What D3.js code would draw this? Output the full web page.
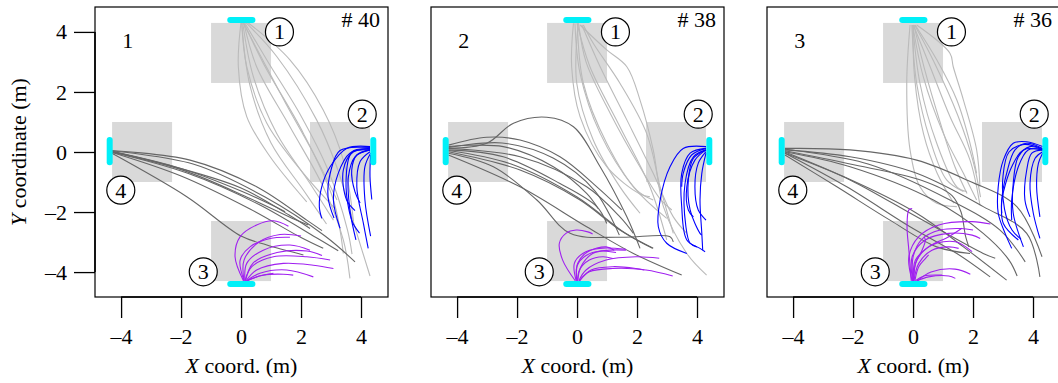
<!DOCTYPE html>
<html>
<head>
<meta charset="utf-8">
<script src="https://cdn.jsdelivr.net/npm/d3@7"></script>
<style>
  body { margin: 0; background: #fff; }
</style>
</head>
<body>
<svg id="chart" width="1058" height="383"></svg>
<script>
// ---- data (metres) ----
const panelNames = ["1", "2", "3"];
const panelCounts = ["# 40", "# 38", "# 36"];
const xTicks = [-4, -2, 0, 2, 4];
const yTicks = [-4, -2, 0, 2, 4];

// waiting zones in front of each door [x0, x1, y0, y1]
const zones = [[-1, 1, 2.3, 4.3], [2.3, 4.3, -1, 1], [-1, 1, -4.3, -2.3], [-4.3, -2.3, -1, 1]];
// door segments [[x, y], [x, y]]
const doors = [
  [[-0.36, 4.4], [0.38, 4.4]],
  [[4.41, -0.34], [4.41, 0.4]],
  [[-0.36, -4.4], [0.38, -4.4]],
  [[-4.38, -0.34], [-4.38, 0.4]]
];
const doorNames = ["1", "2", "3", "4"];
const doorNameSpots = [[1.28, 4.0], [4.04, 1.26], [-1.26, -3.99], [-4.01, -1.27]];

// panel 1 trajectories
const p1Door1 = [
  [[0, 4.34], [-0.09, 2.84], [0.19, 1.18], [0.97, -0.16], [2.19, -1.66]],
  [[0.02, 4.34], [0.19, 2.84], [0.86, 0.96], [2.08, -0.71], [3.13, -1.88]],
  [[0.08, 4.34], [0.52, 2.84], [1.63, 0.84], [2.74, -1.16], [3.41, -2.93], [3.63, -4.21]],
  [[0.08, 4.34], [0.74, 2.96], [2.08, 0.62], [3.08, -1.6], [3.41, -3.38]],
  [[0.13, 4.34], [1.19, 3.18], [2.52, 1.07], [3.19, -0.49], [3.86, -2.71], [4.3, -4.13]],
  [[0.19, 4.34], [1.63, 3.07], [2.74, 1.4], [3.41, -0.27], [3.75, -2.3]],
  [[0.05, 4.34], [0.41, 2.51], [1.19, 0.62], [2.3, -1.05], [3.08, -2.27]],
  [[0.02, 4.34], [0.3, 2.2], [1.0, 0.3], [2.1, -1.3], [2.85, -2.4]],
  [[0.1, 4.34], [0.9, 3.0], [2.0, 1.2], [2.9, -0.6], [3.55, -2.6], [3.7, -3.4]],
  [[0.05, 4.34], [0.6, 3.3], [1.5, 1.6], [2.5, -0.2], [3.2, -1.6]]
];
const p1Door4 = [
  [[-4.35, 0.05], [-1.7, -0.27], [0.52, -1.16], [2.19, -2.27], [2.7, -2.62]],
  [[-4.35, 0.03], [-2.0, -0.55], [0.0, -1.3], [1.2, -1.85], [1.47, -1.99]],
  [[-4.35, 0.02], [-1.9, -0.62], [0.3, -1.55], [1.8, -2.25], [2.24, -2.43]],
  [[-4.35, 0.0], [-2.0, -0.8], [0.3, -1.9], [2.0, -2.85], [2.74, -3.21]],
  [[-4.35, 0.01], [-1.8, -0.7], [0.6, -1.75], [2.5, -2.85], [3.24, -3.29]],
  [[-4.35, 0.04], [-1.6, -0.4], [0.8, -1.5], [2.8, -2.8], [3.8, -3.66]],
  [[-4.35, -0.02], [-1.81, -1.49], [0.0, -2.8], [0.86, -3.1], [2.08, -3.43]],
  [[-4.35, 0.02], [-2.2, -0.5], [0.0, -1.2], [1.6, -2.1], [2.3, -2.55]]
];
const p1Door2 = [
  [[4.3, 0.18], [3.52, 0.12], [2.97, -0.49], [2.69, -1.16], [2.61, -1.82], [2.69, -2.21]],
  [[4.3, 0.12], [3.63, -0.04], [3.24, -0.71], [3.08, -1.6], [3.3, -2.54]],
  [[4.3, 0.07], [3.8, -0.16], [3.58, -0.82], [3.63, -1.93], [3.83, -2.93]],
  [[4.3, 0.01], [3.97, -0.32], [3.86, -1.16], [4.08, -2.38], [4.24, -3.21]],
  [[4.32, -0.04], [4.13, -0.49], [4.13, -1.6], [4.32, -2.8]],
  [[4.32, -0.1], [4.3, -0.82], [4.36, -1.58]],
  [[4.3, 0.07], [3.74, 0.0], [3.41, -0.6], [3.52, -1.6], [3.8, -1.95]],
  [[4.3, 0.07], [3.86, -0.1], [3.69, -0.6], [3.8, -1.33], [3.97, -1.7]],
  [[4.3, 0.15], [3.3, 0.05], [3.0, -0.6], [2.9, -1.5], [3.1, -2.2]],
  [[4.3, 0.1], [3.7, 0.0], [3.5, -1.0], [3.7, -2.3], [3.95, -2.7]]
];
const p1Door3 = [
  [[0.08, -4.29], [-0.2, -3.49], [-0.03, -2.82], [0.52, -2.43], [1.08, -2.29], [1.58, -2.47]],
  [[0.1, -4.29], [-0.03, -3.6], [0.3, -3.16], [0.97, -2.88], [1.63, -2.84]],
  [[0.13, -4.29], [0.19, -3.71], [0.74, -3.27], [1.63, -3.1], [2.3, -3.27]],
  [[0.13, -4.29], [0.36, -3.82], [1.08, -3.49], [2.19, -3.49], [2.97, -3.6]],
  [[0.17, -4.29], [0.52, -3.93], [1.41, -3.71], [2.41, -3.77], [3.08, -3.88]],
  [[0.19, -4.29], [0.63, -4.04], [1.52, -3.93], [2.41, -4.16]],
  [[0.21, -4.29], [0.74, -4.1], [1.41, -4.07], [1.74, -4.1]],
  [[0.19, -4.29], [0.52, -4.16], [1.08, -4.04]],
  [[0.1, -4.29], [0.1, -3.6], [0.6, -3.0], [1.3, -2.75], [2.0, -2.8]],
  [[0.15, -4.29], [0.4, -3.7], [1.2, -3.35], [2.2, -3.3], [2.7, -3.45]]
];

// panel 2 trajectories
const p2Door1 = [
  [[-0.12, 4.29], [-0.18, 2.84], [0.1, 1.18], [0.99, -0.49], [2.1, -1.4], [2.43, -1.49]],
  [[-0.07, 4.29], [0.1, 2.62], [0.77, 0.62], [1.88, -1.16], [2.99, -2.21]],
  [[0, 4.29], [0.43, 2.84], [1.43, 0.84], [2.43, -1.16], [2.99, -2.93]],
  [[0.1, 4.23], [0.99, 3.4], [1.66, 2.84], [2.1, 1.73], [2.54, 0.07], [2.88, -1.82], [3.66, -3.38], [4.32, -4.1]],
  [[0.21, 4.23], [0.54, 3.62], [1.43, 2.29], [2.32, 0.62], [2.77, -1.16], [3.21, -2.71]],
  [[0.04, 4.29], [-0.01, 2.29], [0.54, 0.4], [1.43, -1.16], [2.1, -2.04]],
  [[0.01, 4.29], [0.21, 2.29], [0.99, 0.29], [1.99, -1.27], [2.54, -1.6]],
  [[0.16, 4.23], [0.77, 2.84], [1.66, 1.07], [2.54, -0.71], [3.21, -2.16], [3.66, -2.71]],
  [[0.05, 4.29], [0.3, 3.0], [1.1, 1.3], [2.1, -0.5], [2.8, -1.6], [3.16, -1.93]]
];
const p2Door4 = [
  [[-4.29, 0.12], [-3.01, 0.29], [-2.12, 0.96], [-1.01, 1.16], [-0.12, 0.84], [0.77, -0.49], [1.66, -2.16], [2.1, -3.21]],
  [[-4.29, 0.23], [-3.01, 0.49], [-1.9, 0.4], [-0.57, -0.16], [0.66, -1.16], [1.49, -1.93]],
  [[-4.29, 0.18], [-2.46, 0.18], [-0.79, -0.49], [0.32, -1.38], [0.7, -1.88]],
  [[-4.29, 0.07], [-2.46, -0.16], [-0.57, -1.05], [0.66, -1.82], [0.99, -2.38]],
  [[-4.29, -0.04], [-2.79, -0.49], [-1.34, -1.6], [-0.23, -2.71], [1.43, -2.84], [3.1, -2.82], [3.21, -2.99]],
  [[-4.29, -0.1], [-1.9, -1.16], [0.32, -2.49], [1.88, -3.38], [3.49, -4.1]],
  [[-4.29, 0.01], [-1.9, -0.6], [0.1, -1.6], [1.43, -2.6], [2.54, -3.21]],
  [[-4.29, 0.12], [-1.9, -0.16], [0.32, -1.16], [1.43, -2.16], [1.88, -2.71]],
  [[-4.29, 0.15], [-2.5, 0.3], [-0.8, -0.2], [0.6, -1.3], [1.41, -2.77]],
  [[-4.29, 0.05], [-2.2, -0.4], [0.0, -1.5], [1.6, -2.7], [2.52, -3.21]]
];
const p2Door2 = [
  [[4.3, 0.18], [3.54, 0.12], [3.1, -0.49], [2.77, -1.6], [2.71, -2.49], [2.99, -3.04], [3.66, -3.38]],
  [[4.3, 0.12], [3.77, -0.04], [3.49, -0.71], [3.49, -1.82], [3.66, -2.93], [4.1, -3.21], [4.27, -3.32]],
  [[4.3, 0.07], [3.88, -0.21], [3.71, -0.93], [3.77, -1.93], [4.1, -2.71], [4.16, -2.77]],
  [[4.3, 0.01], [4.04, -0.38], [3.93, -1.16], [4.04, -1.93], [4.3, -2.27]],
  [[4.3, 0.07], [3.93, -0.27], [3.66, -1.16], [3.71, -1.93], [3.88, -2.16]],
  [[4.3, 0.12], [3.82, -0.1], [3.54, -0.71], [3.49, -1.16]],
  [[4.3, -0.04], [4.16, -0.71], [4.1, -1.6], [4.16, -2.71], [4.19, -3.27]],
  [[4.3, 0.07], [3.88, -0.16], [3.6, -1.05], [3.63, -2.49], [3.77, -3.04], [3.99, -3.16]]
];
const p2Door3 = [
  [[-0.06, -4.29], [-0.48, -3.6], [-0.59, -3.04], [-0.37, -2.71], [-0.03, -2.6], [0.36, -2.66], [0.52, -2.73]],
  [[-0.03, -4.29], [-0.09, -3.71], [0.19, -3.38], [0.74, -3.21], [1.63, -3.24]],
  [[-0.01, -4.29], [0.02, -3.71], [0.36, -3.32], [0.97, -3.16], [1.24, -3.27]],
  [[0.02, -4.29], [0.13, -3.82], [0.52, -3.38], [1.08, -3.27], [1.63, -3.27]],
  [[0.06, -4.29], [0.3, -3.93], [0.97, -3.6], [1.97, -3.49], [2.74, -3.54]],
  [[0.08, -4.29], [0.41, -3.99], [1.19, -3.88], [2.3, -3.93], [3.19, -4.13]],
  [[0.08, -4.29], [0.47, -3.93], [1.19, -3.82], [1.97, -3.88], [2.24, -3.93]],
  [[0.02, -4.29], [0.08, -3.93], [0.41, -3.6], [0.86, -3.49], [1.19, -3.55]],
  [[0.0, -4.29], [0.0, -3.8], [0.3, -3.45], [0.8, -3.3], [1.3, -3.35]]
];

// panel 3 trajectories
const p3Door1 = [
  [[-0.1, 4.23], [-0.21, 2.29], [-0.1, 0.07], [0.23, -1.16], [0.79, -1.71], [1.46, -1.82]],
  [[-0.04, 4.23], [0.12, 2.29], [0.57, 0.4], [1.12, -0.93], [1.68, -1.32]],
  [[-0.01, 4.23], [0.34, 2.51], [1.01, 0.62], [1.68, -0.71], [2.12, -1.6]],
  [[0.01, 4.23], [0.57, 2.84], [1.23, 1.18], [1.9, -0.27], [2.23, -1.77]],
  [[0.07, 4.23], [0.79, 3.07], [1.46, 1.73], [1.9, 0.29], [2.12, -0.71]],
  [[0.12, 4.23], [1.23, 3.29], [1.34, 2.84], [1.68, 1.73], [2.12, 0.07], [2.23, -1.16]],
  [[-0.01, 4.23], [0.23, 2.29], [0.79, 0.29], [1.46, -1.16], [1.79, -1.32]],
  [[0.03, 4.23], [0.4, 2.7], [0.9, 1.0], [1.4, -0.5], [1.8, -1.38]],
  [[0.0, 4.23], [0.05, 2.5], [0.35, 0.6], [0.8, -0.7], [1.36, -1.71]],
  [[0.05, 4.23], [0.7, 3.0], [1.5, 1.2], [2.0, -0.3], [2.25, -1.5]]
];
const p3Door4 = [
  [[-4.27, 0.12], [-2.1, 0.07], [0.12, -0.27], [1.79, -0.93], [3.46, -1.82], [4.3, -3.49]],
  [[-4.27, 0.07], [-2.1, -0.16], [0.12, -0.71], [2.34, -1.82], [3.79, -2.71], [4.23, -4.16]],
  [[-4.27, 0.01], [-2.1, -0.49], [0.68, -1.6], [2.34, -2.71], [3.2, -3.6], [3.47, -4.13]],
  [[-4.27, -0.04], [-2.32, -0.82], [0.12, -2.04], [1.68, -3.16], [3.12, -4.27]],
  [[-4.27, -0.04], [-2.21, -1.16], [-0.1, -2.49], [1.46, -3.38], [2.57, -4.16]],
  [[-4.27, 0.04], [-2.1, -0.4], [0.3, -0.95], [1.3, -1.45], [1.6, -2.0], [1.75, -2.8], [1.86, -3.16]],
  [[-4.27, 0.09], [-1.5, -0.4], [1.23, -1.6], [2.9, -2.6], [3.74, -3.66]],
  [[-4.27, -0.1], [-2.54, -1.16], [-0.77, -2.27], [0.79, -3.16], [1.9, -3.38]],
  [[-4.27, 0.0], [-2.1, -0.93], [0.12, -2.16], [2.34, -3.38], [2.74, -3.54]]
];
const p3Door2 = [
  [[4.32, 0.18], [3.79, 0.34], [3.34, 0.29], [3.01, -0.27], [2.84, -1.16], [2.84, -2.04], [3.07, -2.71], [3.29, -3.21]],
  [[4.32, 0.12], [3.79, 0.29], [3.4, 0.07], [3.12, -0.71], [2.96, -1.6], [3.01, -2.38], [3.51, -2.93]],
  [[4.32, 0.07], [3.9, 0.18], [3.51, -0.16], [3.34, -1.05], [3.34, -2.04], [3.68, -3.16]],
  [[4.32, 0.07], [3.96, -0.04], [3.79, -0.6], [3.73, -1.6], [3.9, -2.16]],
  [[4.32, 0.01], [4.07, -0.21], [3.9, -1.05], [4.01, -2.04], [4.23, -2.88]],
  [[4.32, 0.07], [3.68, 0.07], [3.29, -0.49], [2.96, -1.6], [2.96, -2.04]],
  [[4.32, -0.04], [4.18, -0.38], [4.12, -1.16], [4.23, -2.16]],
  [[4.32, 0.07], [3.84, 0.07], [3.51, -0.49], [3.29, -1.6], [3.29, -2.27]],
  [[4.32, 0.1], [3.7, 0.25], [3.2, 0.0], [3.0, -0.8], [3.05, -1.9], [3.3, -2.6], [3.6, -2.9]]
];
const p3Door3 = [
  [[-0.06, -4.29], [-0.14, -3.27], [-0.2, -2.49], [-0.14, -1.93], [-0.03, -1.88]],
  [[-0.03, -4.29], [-0.14, -3.49], [0.19, -2.82], [0.86, -2.43], [1.97, -2.32], [2.58, -2.4]],
  [[-0.01, -4.29], [-0.03, -3.49], [0.41, -2.93], [1.19, -2.71], [1.97, -2.77], [2.24, -2.88]],
  [[0.01, -4.29], [0.08, -3.6], [0.52, -3.16], [1.19, -2.82], [1.63, -2.54]],
  [[0.02, -4.29], [0.13, -3.6], [0.63, -3.1], [1.41, -2.99], [1.97, -3.32]],
  [[0.03, -4.29], [0.19, -3.71], [0.63, -3.27], [1.19, -3.16], [1.52, -3.21]],
  [[0.06, -4.29], [0.19, -3.82], [0.41, -3.55], [0.52, -3.43]],
  [[0.08, -4.29], [0.36, -4.13], [0.97, -4.1]],
  [[0.13, -4.29], [0.52, -4.16], [1.19, -4.13], [1.41, -4.21]],
  [[0.02, -4.29], [0.08, -3.71], [0.3, -3.27], [0.41, -2.93], [0.36, -2.82]],
  [[0.0, -4.29], [0.0, -3.5], [0.3, -2.9], [0.9, -2.6], [1.6, -2.55], [2.0, -2.6]],
  [[0.15, -4.29], [0.6, -4.0], [1.4, -3.9], [1.91, -4.07]]
];

const panelTracks = [
  [p1Door1, p1Door4, p1Door2, p1Door3],
  [p2Door1, p2Door4, p2Door2, p2Door3],
  [p3Door1, p3Door4, p3Door2, p3Door3]
];
const trackColors = ["#bababa", "#666666", "#0000ff", "#a020f0"];

// ---- layout ----
const serif = "'Liberation Serif', 'Times New Roman', Times, 'DejaVu Serif', serif";
const svg = d3.select("#chart").style("font-family", serif);
const panelLeft = [95, 431, 767];
const panelTop = 7, pw = 293, ph = 290;

const x = d3.scaleLinear().domain([-4.87, 4.9]).range([0, pw]);
const y = d3.scaleLinear().domain([-4.83, 4.83]).range([ph, 0]);
const line = d3.line().x(d => x(d[0])).y(d => y(d[1])).curve(d3.curveCatmullRom.alpha(0.5));
const fmt = d => d < 0 ? "\u2013" + (-d) : String(d);

svg.append("rect").attr("width", 1058).attr("height", 383).attr("fill", "#fff");

panelLeft.forEach((left, i) => {
  const g = svg.append("g").attr("transform", `translate(${left},${panelTop})`);

  g.selectAll(".zone").data(zones).enter().append("rect")
    .attr("x", d => x(d[0])).attr("y", d => y(d[3]))
    .attr("width", d => x(d[1]) - x(d[0])).attr("height", d => y(d[2]) - y(d[3]))
    .attr("fill", "#d9d9d9");

  panelTracks[i].forEach((tracks, k) => {
    g.append("g").selectAll("path").data(tracks).enter().append("path")
      .attr("d", line)
      .attr("fill", "none")
      .attr("stroke", trackColors[k])
      .attr("stroke-width", 1.1);
  });

  g.selectAll(".door").data(doors).enter().append("line")
    .attr("x1", d => x(d[0][0])).attr("y1", d => y(d[0][1]))
    .attr("x2", d => x(d[1][0])).attr("y2", d => y(d[1][1]))
    .attr("stroke", "#00f0f8").attr("stroke-width", 6).attr("stroke-linecap", "round");

  const lab = g.selectAll(".dlab").data(doorNameSpots).enter().append("g")
    .attr("transform", d => `translate(${x(d[0])},${y(d[1])})`);
  lab.append("circle").attr("r", 14).attr("fill", "#fff").attr("stroke", "#000").attr("stroke-width", 1.2);
  lab.append("text").attr("text-anchor", "middle").attr("dy", "0.34em")
    .style("font-family", serif).attr("font-size", 22).text((d, j) => doorNames[j]);

  g.append("text").attr("x", x(-3.78)).attr("y", y(3.47)).attr("text-anchor", "middle")
    .style("font-family", serif).attr("font-size", 22).text(panelNames[i]);
  g.append("text").attr("x", x(4.63)).attr("y", y(4.17)).attr("text-anchor", "end")
    .style("font-family", serif).attr("font-size", 22).text(panelCounts[i]);

  g.append("rect").attr("width", pw).attr("height", ph)
    .attr("fill", "none").attr("stroke", "#000").attr("stroke-width", 1.2);

  const xa = g.append("g").attr("transform", `translate(0,${ph})`)
    .call(d3.axisBottom(x).tickValues(xTicks).tickSize(21).tickPadding(10).tickFormat(fmt));
  xa.attr("font-family", null);
  xa.select(".domain").remove();
  xa.selectAll("line").attr("stroke-width", 1.3);
  xa.selectAll("text").attr("font-size", 22).style("font-family", serif);
  g.append("line").attr("x1", x(-4)).attr("x2", x(4)).attr("y1", ph).attr("y2", ph)
    .attr("stroke", "#000").attr("stroke-width", 1.6);

  g.append("text").attr("x", pw / 2).attr("y", 373 - panelTop).attr("text-anchor", "middle")
    .style("font-family", serif).attr("font-size", 22)
    .call(t => { t.append("tspan").attr("font-style", "italic").text("X"); t.append("tspan").text(" coord. (m)"); });

  if (i === 0) {
    const ya = g.append("g")
      .call(d3.axisLeft(y).tickValues(yTicks).tickSize(21).tickPadding(7).tickFormat(fmt));
    ya.attr("font-family", null);
    ya.select(".domain").remove();
    ya.selectAll("line").attr("stroke-width", 1.3);
    ya.selectAll("text").attr("font-size", 22).style("font-family", serif);
    g.append("line").attr("x1", 0).attr("x2", 0).attr("y1", y(-4)).attr("y2", y(4))
      .attr("stroke", "#000").attr("stroke-width", 1.6);

    g.append("text").attr("transform", `translate(${26 - left},${ph / 2}) rotate(-90)`)
      .attr("text-anchor", "middle").style("font-family", serif).attr("font-size", 22)
      .call(t => { t.append("tspan").attr("font-style", "italic").text("Y"); t.append("tspan").text(" coordinate (m)"); });
  }
});
</script>
</body>
</html>
